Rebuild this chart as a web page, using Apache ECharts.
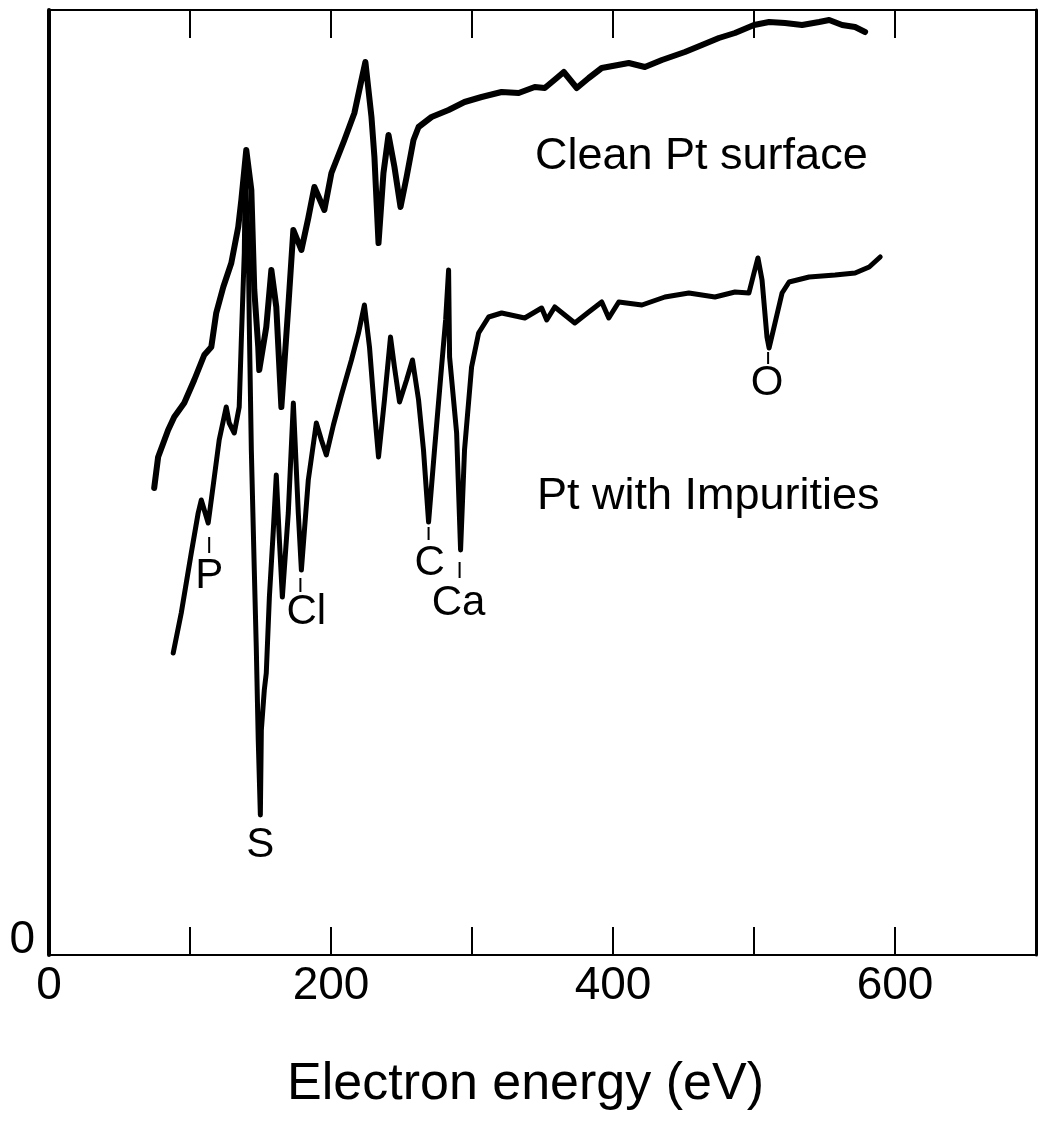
<!DOCTYPE html>
<html>
<head>
<meta charset="utf-8">
<script src="https://cdn.jsdelivr.net/npm/echarts@6/dist/echarts.min.js"></script>
<style>
  html, body { margin: 0; padding: 0; background: #fff; }
  #chart { width: 1048px; height: 1130px; }
</style>
</head>
<body>
<div id="chart"></div>
<script>
// Auger spectra, signal in arbitrary units (0 = bottom of frame)
const cleanEnergy = [74.6, 77.4, 84.5, 88.8, 95.9, 103.0, 110.1, 115.1, 118.6, 123.6, 129.3, 134.2, 136.4, 139.9,
  143.5, 145.6, 148.4, 149.1, 154.1, 157.7, 161.2, 164.8, 169.7, 173.3, 179.0, 183.9, 188.2, 195.3, 200.3,
  209.5, 216.6, 221.6, 224.4, 228.7, 230.8, 233.7, 237.2, 240.8, 245.0, 249.3, 253.6, 258.5, 262.1, 271.3,
  283.4, 294.7, 306.8, 321.0, 333.1, 344.5, 351.6, 360.1, 365.1, 374.3, 382.8, 392.0, 411.2, 422.6, 434.7,
  451.0, 463.1, 475.1, 486.5, 500.0, 510.7, 522.0, 534.1, 546.2, 553.3, 562.5, 571.7, 578.8];
const cleanSignal = [467, 498, 525, 538, 552, 575, 600, 608, 642, 668, 692, 728, 755, 805,
  765, 665, 608, 585, 628, 685, 648, 548, 648, 725, 705, 737, 768, 745, 782,
  815, 842, 875, 893, 838, 798, 712, 782, 820, 788, 748, 778, 815, 828, 838,
  845, 853, 858, 863, 862, 868, 867, 877, 883, 867, 877, 887, 892, 888, 895,
  903, 910, 917, 922, 930, 933, 932, 930, 933, 935, 930, 928, 923];

const impEnergy = [88.1, 93.8, 100.9, 105.8, 108.0, 112.9, 116.5, 120.7, 125.7, 127.8, 131.4, 134.9, 136.4, 138.5,
  139.2, 141.3, 142.0, 143.5, 145.6, 147.0, 148.4, 149.9, 150.6, 152.7, 154.1, 156.3, 159.1, 161.2, 163.4,
  165.5, 169.7, 173.3, 176.8, 179.0, 183.9, 189.6, 193.2, 196.7, 201.7, 207.4, 214.5, 219.5, 223.7, 227.3,
  230.8, 233.7, 237.9, 242.2, 245.0, 248.6, 253.6, 257.8, 262.1, 265.6, 269.2, 273.4, 278.4, 281.3, 283.4,
  284.1, 289.1, 291.9, 294.7, 299.7, 304.7, 311.8, 321.0, 337.4, 349.4, 353.0, 358.7, 372.9, 382.8, 392.0,
  397.0, 404.1, 420.5, 436.8, 453.8, 472.3, 486.5, 496.4, 500.0, 502.8, 505.7, 509.2, 510.7, 514.9, 519.9,
  524.9, 539.1, 557.5, 571.7, 581.7, 589.5];
const impSignal = [302, 342, 402, 442, 455, 432, 470, 515, 548, 532, 522, 548, 615, 702,
  780, 715, 635, 505, 385, 308, 215, 140, 225, 265, 282, 358, 425, 480, 415,
  358, 442, 552, 442, 385, 475, 532, 515, 500, 530, 560, 595, 622, 650, 608,
  545, 498, 555, 618, 588, 553, 575, 595, 555, 505, 433, 505, 588, 635, 685,
  598, 522, 405, 505, 588, 622, 638, 642, 637, 647, 635, 648, 632, 643, 653,
  637, 653, 650, 658, 662, 658, 663, 662, 682, 697, 675, 618, 607, 632, 662,
  673, 678, 680, 682, 688, 698];

// element markers below the dips
const peakNames = ['P', 'Cl', 'S', 'C', 'Ca', 'O'];
const peakEnergy = [113.6, 182.5, 149.9, 269.9, 290.5, 509.2];
const peakLabelY = [379, 343, 110, 392, 352, 572];
const tickEnergy = [113.6, 178.3, 269.2, 291.2, 510.0];
const tickTop = [418, 377, 428, 393, 603];
const tickBottom = [402, 363, 415, 377, 591];

const chart = echarts.init(document.getElementById('chart'));
const font = 'Liberation Sans, Arial, sans-serif';

const frameAxis = {
  axisLine: { onZero: false, lineStyle: { color: '#000', width: 2 } },
  splitLine: { show: false }
};

const option = {
  backgroundColor: '#fff',
  animation: false,
  grid: { left: 49, right: 12, top: 10, bottom: 175, containLabel: false, outerBoundsMode: 'none' },
  xAxis: [
    {
      ...frameAxis,
      type: 'value', min: 0, max: 700, interval: 100, position: 'bottom',
      axisTick: { inside: true, length: 28, lineStyle: { color: '#000', width: 2 } },
      axisLabel: {
        margin: 8, fontSize: 46, color: '#000', fontFamily: font,
        formatter: (v) => (v % 200 === 0 && v < 700 ? String(v) : '')
      },
      name: 'Electron energy (eV)', nameLocation: 'middle', nameGap: 104,
      nameTextStyle: { fontSize: 52, color: '#000', fontFamily: font, padding: [0, 34, 0, 0] }
    },
    {
      ...frameAxis,
      type: 'value', min: 0, max: 700, interval: 100, position: 'top',
      axisTick: { inside: true, length: 28, lineStyle: { color: '#000', width: 2 } },
      axisLabel: { show: false }
    }
  ],
  yAxis: [
    {
      type: 'value', min: 0, max: 945, interval: 945, position: 'left',
      axisLine: { show: true, onZero: false, lineStyle: { color: '#000', width: 4 } },
      axisTick: { show: false },
      axisLabel: {
        margin: 14, fontSize: 46, color: '#000', fontFamily: font,
        verticalAlign: 'bottom', lineHeight: 30,
        formatter: (v) => (v === 0 ? '0' : '')
      },
      splitLine: { show: false }
    },
    {
      type: 'value', min: 0, max: 945, position: 'right',
      axisLine: { show: true, onZero: false, lineStyle: { color: '#000', width: 3 } },
      axisTick: { show: false },
      axisLabel: { show: false },
      splitLine: { show: false }
    }
  ],
  graphic: [
    { type: 'text', left: 535, top: 134, style: { text: 'Clean Pt surface', fontSize: 45, fill: '#000', fontFamily: font } },
    { type: 'text', left: 537, top: 474, style: { text: 'Pt with Impurities', fontSize: 45, fill: '#000', fontFamily: font } }
  ],
  series: [
    {
      name: 'Clean Pt surface', type: 'line', showSymbol: false, smooth: false,
      data: cleanEnergy.map((e, i) => [e, cleanSignal[i]]),
      lineStyle: { color: '#000', width: 6, join: 'round', cap: 'round' }
    },
    {
      name: 'Pt with Impurities', type: 'line', showSymbol: false, smooth: false,
      data: impEnergy.map((e, i) => [e, impSignal[i]]),
      lineStyle: { color: '#000', width: 5, join: 'round', cap: 'round' }
    },
    {
      type: 'custom',
      data: tickEnergy.map((e, i) => [e, tickTop[i], tickBottom[i]]),
      renderItem: (params, api) => {
        const p1 = api.coord([api.value(0), api.value(1)]);
        const p2 = api.coord([api.value(0), api.value(2)]);
        return {
          type: 'line',
          shape: { x1: p1[0], y1: p1[1], x2: p2[0], y2: p2[1] },
          style: { stroke: '#000', lineWidth: 2 }
        };
      }
    },
    {
      type: 'scatter', symbolSize: 0, itemStyle: { color: '#000', opacity: 1 },
      data: peakNames.map((n, i) => [peakEnergy[i], peakLabelY[i], n]),
      label: {
        show: true, position: 'inside', formatter: (p) => p.data[2],
        fontSize: 42, color: '#000', opacity: 1, fontFamily: font, textBorderWidth: 0
      },
      emphasis: { disabled: true }
    }
  ]
};

chart.setOption(option);
</script>
</body>
</html>
